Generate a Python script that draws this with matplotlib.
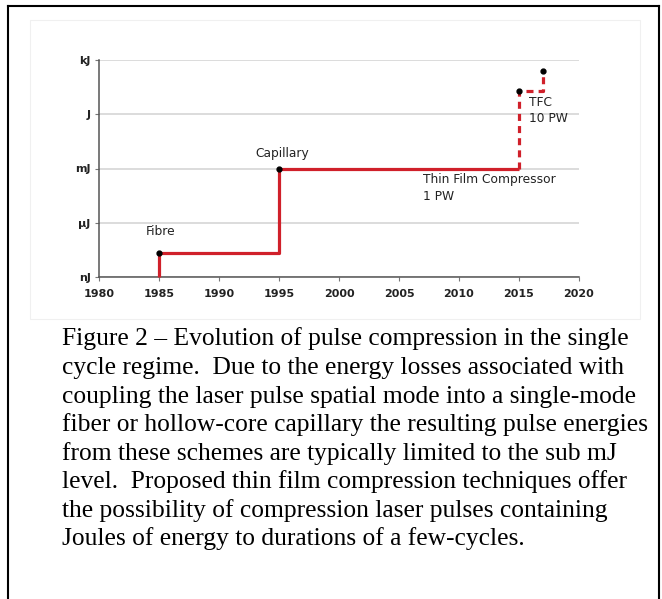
import matplotlib
matplotlib.use("Agg")
import matplotlib.pyplot as plt
from matplotlib.lines import Line2D
from matplotlib.patches import Rectangle

# ---- data ----
years = [1985, 1995, 2015, 2017]
energies = [2e-8, 1e-3, 20, 250]          # joules
labels = ["Fibre", "Capillary", "Thin Film Compressor\n1 PW", "TFC\n10 PW"]
x_ticks = [1980, 1985, 1990, 1995, 2000, 2005, 2010, 2015, 2020]
y_ticks = [1e-9, 1e-6, 1e-3, 1, 1e3]
y_tick_labels = ["nJ", "\u00b5J", "mJ", "J", "kJ"]
caption_lines = [
    "Figure 2 \u2013 Evolution of pulse compression in the single",
    "cycle regime.  Due to the energy losses associated with",
    "coupling the laser pulse spatial mode into a single-mode",
    "fiber or hollow-core capillary the resulting pulse energies",
    "from these schemes are typically limited to the sub mJ",
    "level.  Proposed thin film compression techniques offer",
    "the possibility of compression laser pulses containing",
    "Joules of energy to durations of a few-cycles.",
]

W, H = 662, 599
fig = plt.figure(figsize=(W / 100, H / 100), dpi=100)

def fx(px):
    return px / W

def fy(py):
    return 1 - py / H

# outer border (bottom edge cut off)
for xs, ys in [((7.5, 7.5), (H + 5, 5.5)), ((7.5, 659), (5.5, 5.5)), ((659, 659), (5.5, H + 5))]:
    fig.add_artist(Line2D([fx(x) for x in xs], [fy(y) for y in ys], color="black", lw=1.5))

# faint chart frame
fig.add_artist(Rectangle((fx(30), fy(319)), fx(640) - fx(30), fy(20) - fy(319),
                         fill=False, edgecolor="#f0f0f0", lw=0.8))

ax = fig.add_axes([fx(99), fy(277), fx(579) - fx(99), fy(60) - fy(277)])
ax.set_yscale("log")
ax.set_xlim(1980, 2020)
ax.set_ylim(1e-9, 1e3)
ax.set_xticks(x_ticks)
ax.set_xticklabels([str(t) for t in x_ticks], fontsize=8, fontweight="bold", color="#222222")
ax.set_yticks(y_ticks)
ax.set_yticklabels(y_tick_labels, fontsize=8, fontweight="bold", color="#222222")
ax.minorticks_off()
ax.yaxis.set_minor_locator(matplotlib.ticker.NullLocator())
for s in ["top", "right"]:
    ax.spines[s].set_visible(False)
for s in ["left", "bottom"]:
    ax.spines[s].set_color("#555555")
    ax.spines[s].set_linewidth(1.1)
ax.tick_params(axis="both", length=3, width=0.8, color="#777777")
ax.tick_params(axis="x", pad=6)
ax.tick_params(axis="y", pad=3)
ax.grid(axis="y", color="#d9d9d9", lw=1.3)
ax.set_axisbelow(True)

red = "#d0202a"
# solid step path
sx = [years[0], years[0], years[1], years[1], years[2]]
sy = [y_ticks[0], energies[0], energies[0], energies[1], energies[1]]
ax.plot(sx, sy, color=red, lw=2.3, solid_capstyle="butt", zorder=3, clip_on=False)
# dashed path
dx = [years[2], years[2], years[3], years[3]]
dy = [energies[1], energies[2], energies[2], energies[3]]
ax.plot(dx, dy, color=red, lw=2.3, ls=(0, (2.2, 1.6)), zorder=3, clip_on=False)
# end markers
ax.plot(years, energies, ls="none", marker="o", ms=3.5, color="black", zorder=4, clip_on=False)

tkw = dict(fontsize=8.8, color="#222222", textcoords="offset pixels")
ax.annotate(labels[0], (years[0], energies[0]), xytext=(2, 15), ha="center", va="bottom", **tkw)
ax.annotate(labels[1], (years[1], energies[1]), xytext=(3, 8), ha="center", va="bottom", **tkw)
ax.annotate(labels[2], (2007, energies[1]), xytext=(0, -5), ha="left", va="top",
            linespacing=1.35, **tkw)
ax.annotate(labels[3], (years[2], energies[2]), xytext=(10, -5), ha="left", va="top",
            linespacing=1.35, **tkw)

# caption
baselines = [345, 374, 402.5, 431, 460, 488, 517, 545]
for line, b in zip(caption_lines, baselines):
    fig.text(fx(62), fy(b), line, fontsize=18.4, family="Liberation Serif",
             ha="left", va="baseline", color="black")

fig.savefig("out.png", dpi=100)
